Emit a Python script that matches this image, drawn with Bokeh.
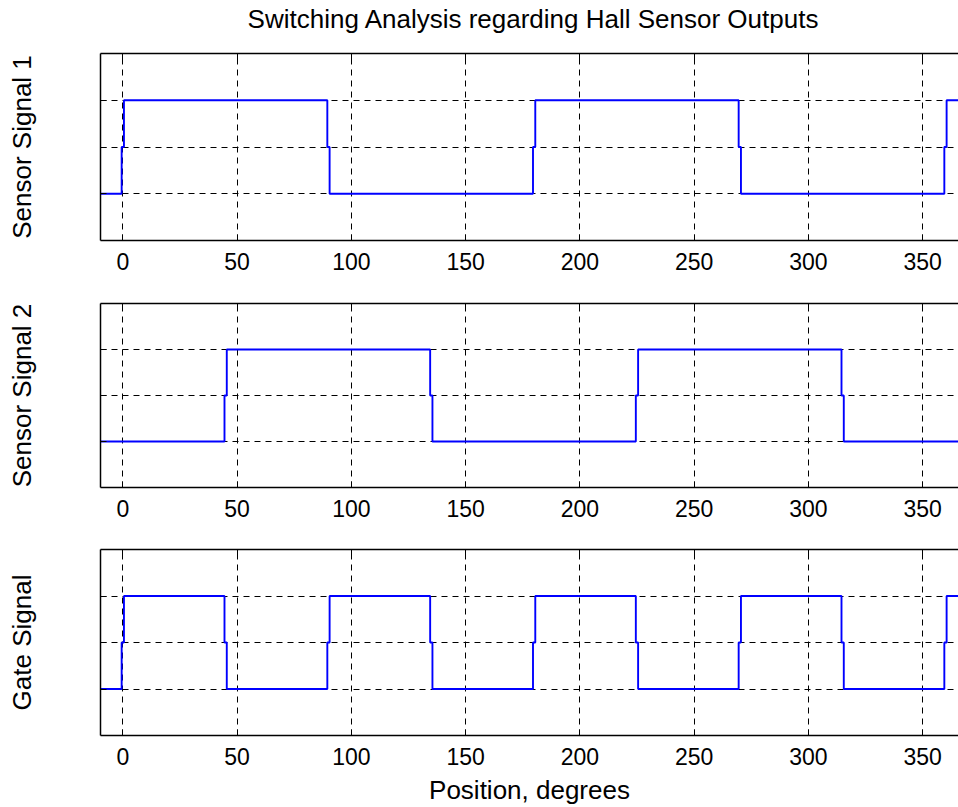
from bokeh.plotting import figure
from bokeh.layouts import column
from bokeh.models import FixedTicker, LinearAxis, Range1d, Div
from bokeh.embed import file_html
from bokeh.resources import INLINE

# Hall sensor switching edges (degrees) and the level reached after each edge
sensor1_start = 0
sensor1_edges = [0, 90, 180, 270, 360]
sensor1_levels = [1, 0, 1, 0, 1]

sensor2_start = 0
sensor2_edges = [45, 135, 225, 315]
sensor2_levels = [1, 0, 1, 0]

gate_start = 0
gate_edges = [0, 45, 90, 135, 180, 225, 270, 315, 360]
gate_levels = [1, 0, 1, 0, 1, 0, 1, 0, 1]

x_ticks = [0, 50, 100, 150, 200, 250, 300, 350]
y_grid = [0, 0.5, 1]

TITLE = "Switching Analysis regarding Hall Sensor Outputs"
X_MIN, X_MAX = -9.76, 365.7
Y_MIN, Y_MAX = -0.5, 1.5
FONT = "Liberation Sans"
BLUE = "#0000ff"
LABEL_SIZE = "26px"
TICK_SIZE = "23px"


def step_path(start, edges, levels, x0=-12, x1=372, shelf=1.0):
    """Square wave with a short half-level shelf at each switching edge."""
    xs, ys = [x0], [start]
    prev = start
    for t, lv in zip(edges, levels):
        a, b = t - shelf / 2, t + shelf / 2
        mid = (prev + lv) / 2
        xs += [a, a, b, b]
        ys += [prev, mid, mid, lv]
        prev = lv
    xs.append(x1)
    ys.append(prev)
    return xs, ys


def panel(height, top, bottom, ylabel, start, edges, levels, xlabel=None):
    p = figure(width=958, height=height,
               x_range=Range1d(X_MIN, X_MAX), y_range=Range1d(Y_MIN, Y_MAX),
               output_backend="svg", toolbar_location=None,
               min_border_left=100, min_border_right=0,
               min_border_top=top, min_border_bottom=bottom,
               background_fill_color="white", border_fill_color="white")
    p.outline_line_color = None

    xs, ys = step_path(start, edges, levels)
    p.line(xs, ys, line_color=BLUE, line_width=1.9)

    # bottom axis
    xa = p.xaxis[0]
    xa.ticker = FixedTicker(ticks=x_ticks)
    xa.major_tick_in = 6
    xa.major_tick_out = 0
    xa.minor_tick_line_color = None
    xa.major_label_standoff = 12
    xa.major_label_text_font = FONT
    xa.major_label_text_font_size = TICK_SIZE
    xa.major_label_text_color = "black"
    xa.axis_line_color = "black"
    xa.axis_line_width = 1.5
    if xlabel:
        xa.axis_label = xlabel
        xa.axis_label_text_font = FONT
        xa.axis_label_text_font_size = LABEL_SIZE
        xa.axis_label_text_font_style = "normal"
        xa.axis_label_text_color = "black"
        xa.axis_label_standoff = 7

    # left axis: grid positions only, no numbers
    ya = p.yaxis[0]
    ya.ticker = FixedTicker(ticks=y_grid)
    ya.major_label_overrides = {0: "", 0.5: "", 1: ""}
    ya.major_tick_in = 6
    ya.major_tick_out = 0
    ya.minor_tick_line_color = None
    ya.major_label_standoff = 0
    ya.axis_line_color = "black"
    ya.axis_line_width = 1.5
    ya.axis_label = ylabel
    ya.axis_label_text_font = FONT
    ya.axis_label_text_font_size = LABEL_SIZE
    ya.axis_label_text_font_style = "normal"
    ya.axis_label_text_color = "black"
    ya.axis_label_standoff = 64

    # top edge of the box
    top_axis = LinearAxis(ticker=FixedTicker(ticks=x_ticks),
                          major_label_overrides={t: "" for t in x_ticks},
                          major_tick_in=6, major_tick_out=0,
                          minor_tick_line_color=None,
                          major_label_standoff=0,
                          major_label_text_font_size="1px",
                          axis_line_color="black", axis_line_width=1.5)
    p.add_layout(top_axis, "above")

    for g in (p.xgrid[0], p.ygrid[0]):
        g.grid_line_color = "black"
        g.grid_line_width = 1
        g.grid_line_dash = "6 5"
    p.ygrid[0].ticker = FixedTicker(ticks=y_grid)
    p.xgrid[0].ticker = FixedTicker(ticks=x_ticks)
    return p


# overall heading, centred over the plot frames
heading = Div(text=TITLE, width=958, height=38, margin=0,
              styles={"font-family": FONT, "font-size": LABEL_SIZE,
                      "line-height": "38px", "text-align": "center",
                      "text-indent": "108px", "color": "black",
                      "white-space": "nowrap"})

p1 = panel(242, 15, 40, "Sensor Signal 1", sensor1_start, sensor1_edges, sensor1_levels)
p2 = panel(245, 23, 38, "Sensor Signal 2", sensor2_start, sensor2_edges, sensor2_levels)
p3 = panel(282, 24, 71, "Gate Signal", gate_start, gate_edges, gate_levels,
           xlabel="Position, degrees")

layout = column(heading, p1, p2, p3, spacing=0)
open("out.html", "w").write(file_html(layout, INLINE))
